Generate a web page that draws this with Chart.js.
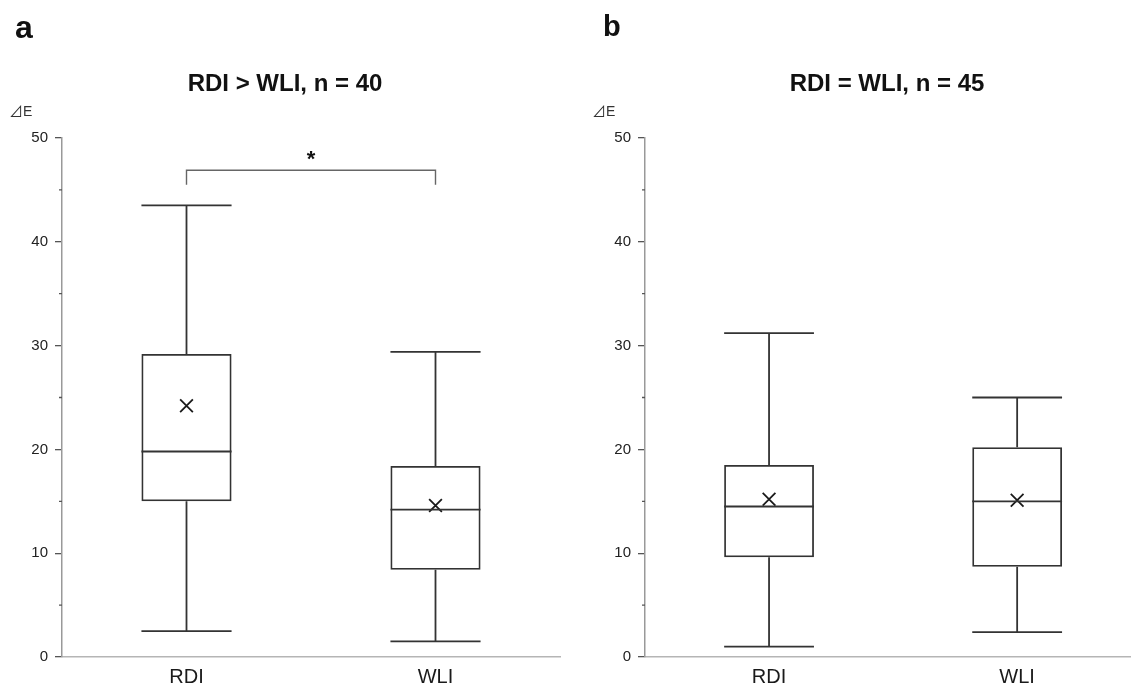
<!DOCTYPE html>
<html>
<head>
<meta charset="utf-8">
<script src="https://cdn.jsdelivr.net/npm/chart.js@4.4.1/dist/chart.umd.min.js"></script>
<style>
  html, body { margin:0; padding:0; background:#fff; overflow:hidden; width:1131px; height:686px; }
  #wrap { position:relative; width:1200px; height:686px; font-family:'Liberation Sans', Arial, sans-serif; }
  .cw { position:absolute; top:0; height:686px; }
  .t { position:absolute; white-space:nowrap; color:#111; }
  .tri { font-family:'Noto Sans CJK JP', 'DejaVu Sans', sans-serif; }
</style>
</head>
<body>
<div id="wrap">
  <div class="cw" style="left:0;width:580px;"><canvas id="ca" width="580" height="686" style="width:580px;height:686px"></canvas></div>
  <div class="cw" style="left:580px;width:572px;"><canvas id="cb" width="572" height="686" style="width:572px;height:686px"></canvas></div>
  <div class="t" style="left:15px;top:11px;font-size:32px;line-height:32px;font-weight:bold;">a</div>
  <div class="t" style="left:603px;top:12px;font-size:29px;line-height:29px;font-weight:bold;">b</div>
  <div class="t" style="left:135px;width:300px;text-align:center;top:71px;font-size:24px;line-height:24px;font-weight:bold;">RDI &gt; WLI, n = 40</div>
  <div class="t" style="left:737px;width:300px;text-align:center;top:71px;font-size:24px;line-height:24px;font-weight:bold;">RDI = WLI, n = 45</div>
  <div class="t" style="left:9px;top:102px;font-size:14px;line-height:16px;color:#333;"><span class="tri">⊿</span>E</div>
  <div class="t" style="left:592px;top:102px;font-size:14px;line-height:16px;color:#333;"><span class="tri">⊿</span>E</div>
</div>
<script>
// ---- data ----
const categories = ['RDI', 'WLI'];
const yTicks = [0, 10, 20, 30, 40, 50];
const yMinorTicks = [5, 15, 25, 35, 45];

// panel a: RDI > WLI, n = 40
const aMin    = [2.5, 1.5];
const aQ1     = [15.0, 8.4];
const aMedian = [19.8, 14.2];
const aQ3     = [29.2, 18.4];
const aMax    = [43.5, 29.4];
const aMean   = [24.2, 14.6];
const aBracket = [46.9, 45.5]; // significance bracket top / leg end
const aSigLabel = '*';

// panel b: RDI = WLI, n = 45
const bMin    = [1.0, 2.4];
const bQ1     = [9.6, 8.7];
const bMedian = [14.5, 15.0];
const bQ3     = [18.5, 20.2];
const bMax    = [31.2, 25.0];
const bMean   = [15.2, 15.1];

Chart.defaults.font.family = "'Liberation Sans', Arial, sans-serif";

const LINE = '#333';

const boxPlugin = {
  id: 'boxplot',
  afterDatasetsDraw(chart, args, opts) {
    const ctx = chart.ctx;
    const ys = chart.scales.y;
    const meta = chart.getDatasetMeta(0);
    const d = opts.d;
    ctx.save();
    ctx.strokeStyle = LINE;
    ctx.lineWidth = 1.8;
    meta.data.forEach((bar, i) => {
      const x = bar.x, hw = bar.width / 2;
      const yMed = ys.getPixelForValue(d.median[i]);
      const yQ1 = ys.getPixelForValue(d.q1[i]);
      const yQ3 = ys.getPixelForValue(d.q3[i]);
      const yMax = ys.getPixelForValue(d.max[i]);
      const yMin = ys.getPixelForValue(d.min[i]);
      ctx.beginPath();
      ctx.moveTo(x - hw, yMed); ctx.lineTo(x + hw, yMed);
      ctx.moveTo(x, yQ3); ctx.lineTo(x, yMax);
      ctx.moveTo(x - hw, yMax); ctx.lineTo(x + hw, yMax);
      ctx.moveTo(x, yQ1); ctx.lineTo(x, yMin);
      ctx.moveTo(x - hw, yMin); ctx.lineTo(x + hw, yMin);
      ctx.stroke();
    });
    // minor ticks
    ctx.strokeStyle = '#555';
    ctx.lineWidth = 1.3;
    ctx.beginPath();
    yMinorTicks.forEach(v => {
      const y = ys.getPixelForValue(v);
      ctx.moveTo(ys.right, y); ctx.lineTo(ys.right - 3, y);
    });
    ctx.stroke();
    // significance bracket
    if (d.bracket) {
      const x0 = meta.data[0].x, x1 = meta.data[1].x;
      const yt = ys.getPixelForValue(d.bracket[0]);
      const yb = ys.getPixelForValue(d.bracket[1]);
      ctx.strokeStyle = '#666';
      ctx.lineWidth = 1.4;
      ctx.beginPath();
      ctx.moveTo(x0, yb); ctx.lineTo(x0, yt); ctx.lineTo(x1, yt); ctx.lineTo(x1, yb);
      ctx.stroke();
      ctx.fillStyle = '#111';
      ctx.font = "bold 22px 'Liberation Sans', Arial, sans-serif";
      ctx.textAlign = 'center';
      ctx.textBaseline = 'alphabetic';
      ctx.fillText(d.sig, (x0 + x1) / 2, yt - 4);
    }
    ctx.restore();
  }
};

function makeChart(id, d, yWidth, rightPad) {
  return new Chart(document.getElementById(id), {
    type: 'bar',
    data: {
      labels: categories,
      datasets: [
        {
          type: 'bar',
          data: d.q1.map((v, i) => [v, d.q3[i]]),
          backgroundColor: 'rgba(255,255,255,0)',
          borderColor: LINE,
          borderWidth: 1.8,
          borderSkipped: false,
          barPercentage: 1,
          categoryPercentage: 0.362
        },
        {
          type: 'line',
          data: d.mean,
          showLine: false,
          pointStyle: 'crossRot',
          pointRadius: 9,
          pointBorderWidth: 1.8,
          pointBorderColor: '#1a1a1a',
          borderColor: '#1a1a1a'
        }
      ]
    },
    options: {
      responsive: false,
      animation: false,
      events: [],
      layout: { padding: { top: 138, right: rightPad, left: 0, bottom: 0 } },
      plugins: { legend: { display: false }, tooltip: { enabled: false }, boxplot: { d: d } },
      scales: {
        x: {
          grid: { display: true, drawOnChartArea: false, drawTicks: false },
          border: { display: true, color: '#b5b5b5', width: 1.5 },
          ticks: { font: { size: 20 }, color: '#1a1a1a', padding: 8 },
          afterFit: s => { s.height = 29; }
        },
        y: {
          min: 0, max: 50,
          afterBuildTicks: s => { s.ticks = yTicks.map(v => ({ value: v })); },
          ticks: { font: { size: 15 }, color: '#222', padding: 7 },
          grid: { drawOnChartArea: false, drawTicks: true, tickLength: 7, color: '#555', lineWidth: 1.3 },
          border: { display: true, color: '#999', width: 1.5 },
          afterFit: s => { s.width = yWidth; }
        }
      }
    },
    plugins: [boxPlugin]
  });
}

makeChart('ca', { min: aMin, q1: aQ1, median: aMedian, q3: aQ3, max: aMax, mean: aMean, bracket: aBracket, sig: aSigLabel }, 62, 20);
makeChart('cb', { min: bMin, q1: bQ1, median: bMedian, q3: bQ3, max: bMax, mean: bMean }, 65, 0);
</script>
</body>
</html>
